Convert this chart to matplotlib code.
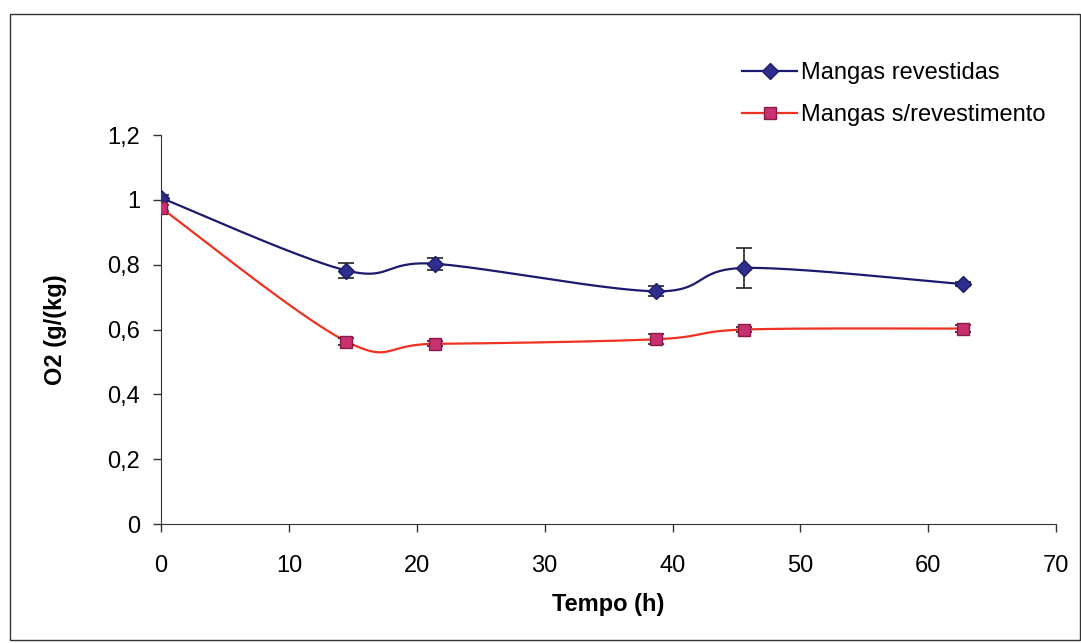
import matplotlib.pyplot as plt
import matplotlib as mpl
import numpy as np
from matplotlib.patches import Rectangle

mpl.rcParams['font.family'] = ['Liberation Sans Narrow', 'Liberation Sans', 'DejaVu Sans']

# data
tempo = [0, 14.5, 21.4, 38.7, 45.6, 62.7]
revestidas = [1.006, 0.782, 0.803, 0.718, 0.790, 0.740]
revestidas_err = [0.008, 0.024, 0.018, 0.016, 0.062, 0.006]
sem_revest = [0.975, 0.563, 0.556, 0.570, 0.600, 0.603]
sem_revest_err = [0.010, 0.012, 0.008, 0.016, 0.008, 0.010]

y_ticks = [0, 0.2, 0.4, 0.6, 0.8, 1.0, 1.2]
y_ticklabels = ['0', '0,2', '0,4', '0,6', '0,8', '1', '1,2']
x_ticks = [0, 10, 20, 30, 40, 50, 60, 70]


def smooth(x, y, n=40):
    # Excel-style smoothed line: cubic Bezier with Catmull-Rom control points
    p = np.column_stack([x, y]).astype(float)
    pts = np.vstack([p[0], p, p[-1]])
    out = []
    t = np.linspace(0, 1, n)[:, None]
    for i in range(1, len(pts) - 2):
        p0, p3 = pts[i], pts[i + 1]
        c1 = p0 + (pts[i + 1] - pts[i - 1]) / 6
        c2 = p3 - (pts[i + 2] - pts[i]) / 6
        seg = ((1 - t) ** 3) * p0 + 3 * ((1 - t) ** 2) * t * c1 + 3 * (1 - t) * t ** 2 * c2 + t ** 3 * p3
        out.append(seg)
    out = np.vstack(out)
    return out[:, 0], out[:, 1]


fig = plt.figure(figsize=(10.81, 6.43), dpi=100)
ax = fig.add_axes([0.149, 0.185, 0.828, 0.605])

# chart border
fig.patches.append(Rectangle((0.009, 0.004), 0.99, 0.974, transform=fig.transFigure,
                             fill=False, edgecolor='#333333', linewidth=1.0))

blue_line = '#1a1a6e'
blue_mark = '#2e2e8c'
red_line = '#f03020'
red_mark = '#c83070'

xs, ys = smooth(tempo, revestidas)
ax.plot(xs, ys, color=blue_line, linewidth=1.6, zorder=2)
ax.errorbar(tempo, revestidas, yerr=revestidas_err, fmt='none', ecolor='#222222',
            elinewidth=1.2, capsize=6, capthick=1.2, zorder=3)
ax.plot(tempo, revestidas, linestyle='none', marker='D', markersize=8,
        markerfacecolor=blue_mark, markeredgecolor='#1c1c6a', zorder=4)

xs, ys = smooth(tempo, sem_revest)
ax.plot(xs, ys, color=red_line, linewidth=1.6, zorder=2)
ax.errorbar(tempo, sem_revest, yerr=sem_revest_err, fmt='none', ecolor='#222222',
            elinewidth=1.2, capsize=6, capthick=1.2, zorder=3)
ax.plot(tempo, sem_revest, linestyle='none', marker='s', markersize=9,
        markerfacecolor=red_mark, markeredgecolor='#8a1a4a', zorder=4)

# legend handles
h1, = ax.plot([], [], color=blue_line, linewidth=1.6, marker='D', markersize=8,
              markerfacecolor=blue_mark, markeredgecolor='#1c1c6a')
h2, = ax.plot([], [], color=red_line, linewidth=1.6, marker='s', markersize=9,
              markerfacecolor=red_mark, markeredgecolor='#8a1a4a')
fig.legend([h1, h2], ['Mangas revestidas', 'Mangas s/revestimento'],
           loc='upper left', bbox_to_anchor=(0.678, 0.918), frameon=False,
           fontsize=17, handlelength=2.3, handletextpad=0.2, labelspacing=0.85,
           borderaxespad=0)

ax.set_xlim(0, 70)
ax.set_ylim(0, 1.2)
ax.set_xticks(x_ticks)
ax.set_xticklabels([str(v) for v in x_ticks])
ax.set_yticks(y_ticks)
ax.set_yticklabels(y_ticklabels)
ax.tick_params(axis='both', labelsize=17, direction='out', length=6, width=1, color='#333333')
ax.tick_params(axis='x', pad=16)
ax.tick_params(axis='y', pad=9)
ax.spines['top'].set_visible(False)
ax.spines['right'].set_visible(False)
ax.spines['left'].set_color('#333333')
ax.spines['bottom'].set_color('#333333')

ax.set_xlabel('Tempo (h)', fontsize=17, fontweight='bold', labelpad=12)
ax.set_ylabel('O2 (g/(kg)', fontsize=17, fontweight='bold', labelpad=29)

plt.savefig('out.png', dpi=100)
plt.close()
